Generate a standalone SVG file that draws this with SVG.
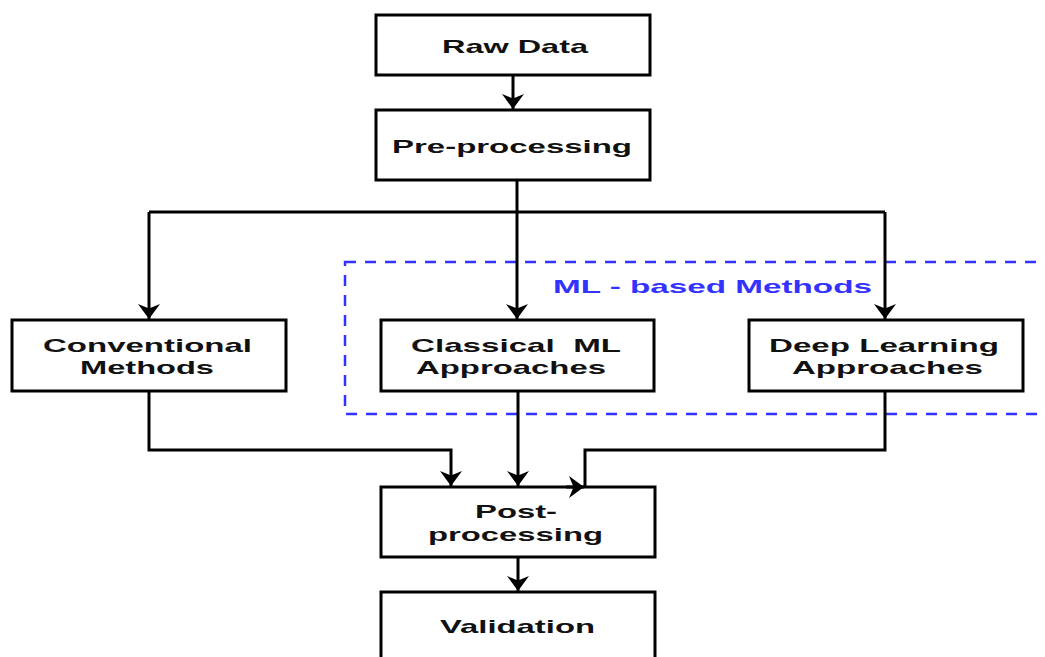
<svg xmlns="http://www.w3.org/2000/svg" width="1045" height="657" viewBox="0 0 1045 657">
<style>
.box{fill:#ffffff;stroke:#000000;stroke-width:3}
.lbl{font-family:"Liberation Sans",Arial,sans-serif;font-weight:bold;font-size:19px;fill:#111111}
.edge{fill:none;stroke:#000000;stroke-width:3}
.grp{fill:none;stroke:#3333ff;stroke-width:2.5;stroke-dasharray:11 9}
.glbl{font-family:"Liberation Sans",Arial,sans-serif;font-weight:bold;font-size:19px;fill:#3333ff}
</style>
<defs>
<marker id="arr" markerUnits="userSpaceOnUse" markerWidth="16" markerHeight="24" viewBox="0 0 16 24" refX="15" refY="12" orient="auto">
<path d="M0,1 L15,12 L0,23 L4.5,12 Z" fill="#000000"/>
</marker>
</defs>
<rect width="1045" height="657" fill="#ffffff"/>
<g id="ml-group">
<rect class="grp" x="345" y="262" width="730" height="152"/>
<text class="glbl" x="553" y="293" textLength="319" lengthAdjust="spacingAndGlyphs">ML - based Methods</text>
</g>
<g id="raw-data">
<rect class="box" x="376" y="15" width="274" height="60"/>
<text class="lbl" x="442" y="53" textLength="146" lengthAdjust="spacingAndGlyphs">Raw Data</text>
</g>
<g id="pre-processing">
<rect class="box" x="376" y="110" width="274" height="70"/>
<text class="lbl" x="392" y="153" textLength="240" lengthAdjust="spacingAndGlyphs">Pre-processing</text>
</g>
<g id="conventional">
<rect class="box" x="12" y="320" width="274" height="71"/>
<text class="lbl" x="43" y="352" textLength="209" lengthAdjust="spacingAndGlyphs">Conventional</text>
<text class="lbl" x="80" y="374" textLength="134" lengthAdjust="spacingAndGlyphs">Methods</text>
</g>
<g id="classical-ml">
<rect class="box" x="381" y="320" width="273" height="71"/>
<text class="lbl" x="411" y="352" textLength="210" lengthAdjust="spacingAndGlyphs" xml:space="preserve">Classical  ML</text>
<text class="lbl" x="416" y="374" textLength="190" lengthAdjust="spacingAndGlyphs">Approaches</text>
</g>
<g id="deep-learning">
<rect class="box" x="749" y="320" width="274" height="71"/>
<text class="lbl" x="769" y="352" textLength="230" lengthAdjust="spacingAndGlyphs">Deep Learning</text>
<text class="lbl" x="792" y="374" textLength="191" lengthAdjust="spacingAndGlyphs">Approaches</text>
</g>
<g id="post-processing">
<rect class="box" x="381" y="487" width="274" height="70"/>
<text class="lbl" x="475" y="518" textLength="82" lengthAdjust="spacingAndGlyphs">Post-</text>
<text class="lbl" x="428" y="541" textLength="175" lengthAdjust="spacingAndGlyphs">processing</text>
</g>
<g id="validation">
<rect class="box" x="381" y="592" width="274" height="80"/>
<text class="lbl" x="440" y="633" textLength="155" lengthAdjust="spacingAndGlyphs">Validation</text>
</g>
<g id="connectors">
<path class="edge" d="M513,76 V109" marker-end="url(#arr)"/>
<path class="edge" d="M517,181 V212 M149,212 H885"/>
<path class="edge" d="M149,212 V319" marker-end="url(#arr)"/>
<path class="edge" d="M517,212 V319" marker-end="url(#arr)"/>
<path class="edge" d="M885,212 V319" marker-end="url(#arr)"/>
<path class="edge" d="M149,392 V450 H451 V486" marker-end="url(#arr)"/>
<path class="edge" d="M518,392 V486" marker-end="url(#arr)"/>
<path class="edge" d="M885,392 V450 H585 V486"/>
<path class="edge" d="M566,487 H584" marker-end="url(#arr)"/>
<path class="edge" d="M518,558 V591" marker-end="url(#arr)"/>
</g>
</svg>
